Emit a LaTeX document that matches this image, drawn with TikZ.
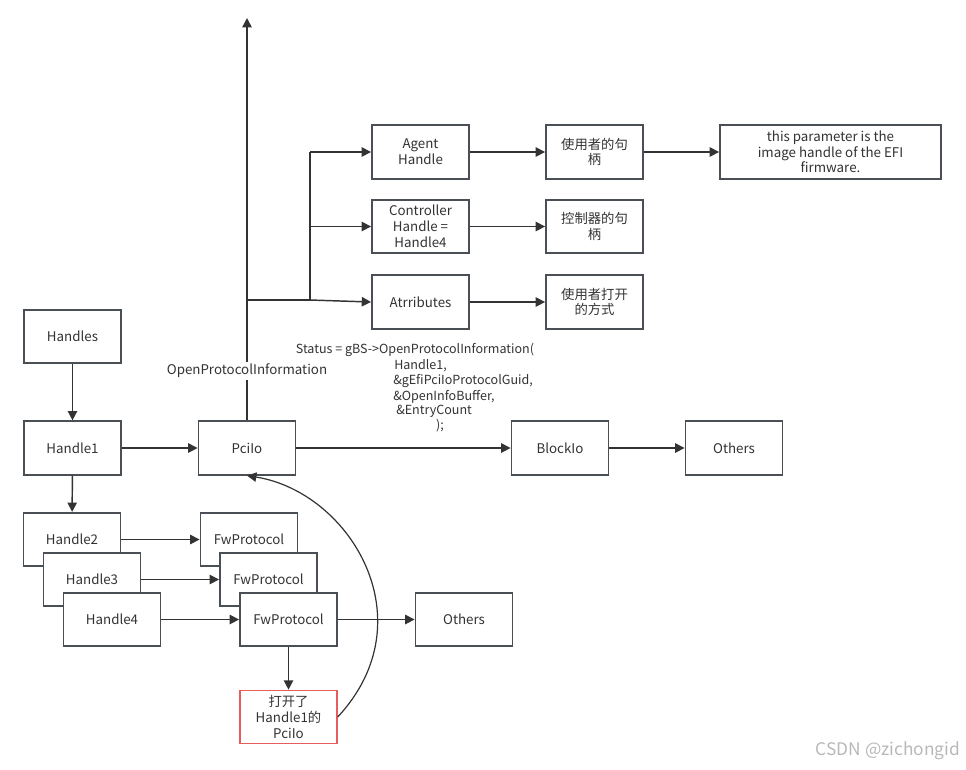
\documentclass[tikz,border=0pt]{standalone}
\usepackage{fontspec}
\setmainfont{Noto Sans CJK SC}
\usetikzlibrary{arrows.meta}
\definecolor{linec}{HTML}{333333}
\definecolor{boxc}{HTML}{4A4F55}
\definecolor{textc}{HTML}{333333}
\definecolor{redc}{HTML}{E85C5C}
\begin{document}
\begin{tikzpicture}[x=0.75pt,y=-0.75pt,
  box/.style={draw=boxc, line width=1.4pt, fill=white, minimum width=72.75pt, minimum height=40pt,
    inner sep=2pt, align=center, text=textc, font=\fontsize{10}{11.8}\selectfont},
  wbox/.style={box, minimum width=165.75pt},
  redbox/.style={box, draw=redc, line width=1pt},
  arr/.style={draw=linec, line width=1.1pt, -{Triangle[length=7pt,width=7pt]}},
  ln/.style={draw=linec, line width=1.1pt},
  code/.style={text=textc, font=\fontsize{9.4}{11}\selectfont, inner sep=0pt},
  lbl/.style={text=textc, font=\fontsize{10}{12}\selectfont, fill=white, inner sep=1.5pt}]
\useasboundingbox (0,0) rectangle (966,769);

% left column
\node[box] (handles) at (72.5,336.5) {Handles};
\node[box] (handle1) at (72.5,448) {Handle1};
\node[box] (pcilo) at (247,448) {PciIo};
\node[box] (blockio) at (560,448) {BlockIo};
\node[box] (others1) at (734,448) {Others};

\node[box] (handle2) at (72,539.5) {Handle2};
\node[box] (handle3) at (92,579.5) {Handle3};
\node[box] (handle4) at (112,619.5) {Handle4};
\node[box] (fw1) at (249,539.5) {FwProtocol};
\node[box] (fw2) at (268.5,579.5) {FwProtocol};
\node[box] (fw3) at (288.5,619.5) {FwProtocol};
\node[box] (others2) at (464,619.5) {Others};
\node[redbox] (opened) at (288.5,717) {打开了\\Handle1的\\PciIo};

% top right
\node[box] (agent) at (420.5,152) {Agent\\Handle};
\node[box] (ctrl) at (420.5,226.5) {Controller\\Handle =\\Handle4};
\node[box] (attr) at (420.5,302) {Atrributes};
\node[box] (user) at (594.5,152) {使用者的句\\柄};
\node[box] (ctrlh) at (594.5,226.5) {控制器的句\\柄};
\node[box] (mode) at (594.5,302) {使用者打开\\的方式};
\node[wbox] (param) at (830.5,152) {this parameter is the\\image handle of the EFI\\firmware.};

% connectors
\draw[arr] (handles) -- (handle1);
\draw[arr] (handle1) -- (pcilo);
\draw[arr] (handle1) -- (handle2);
\draw[arr] (pcilo) -- (blockio);
\draw[arr] (blockio) -- (others1);
\draw[arr] (handle2) -- (fw1);
\draw[arr] (handle3) -- (fw2);
\draw[arr] (handle4) -- (fw3);
\draw[arr] (fw3) -- (others2);
\draw[arr] (fw3) -- (opened);

\coordinate (top) at (247,18);
\coordinate (branch) at (247,300);
\coordinate (split) at (310,300);
\coordinate (splittop) at (310,152);
\coordinate (splitmid) at (310,226.5);
\draw[arr] (pcilo.north) -- (top);
\node[lbl] (opi) at (247,371) {OpenProtocolInformation};
\draw[ln] (branch) -- (split);
\draw[ln] (split) -- (splittop);
\draw[arr] (split) -- (attr.west);
\draw[arr] (splittop) -- (agent.west);
\draw[arr] (splitmid) -- (ctrl.west);
\draw[arr] (agent) -- (user);
\draw[arr] (user) -- (param);
\draw[arr] (ctrl) -- (ctrlh);
\draw[arr] (attr) -- (mode);

\draw[draw=linec, line width=0.9pt, -{Triangle[length=7pt,width=7pt]}]
  (opened.east) .. controls (428,620) and (350,492) .. (pcilo.south);

% code text
\node[code] (c0) at (415,350) {Status = gBS->OpenProtocolInformation(};
\node[code, anchor=west] (c1) at (394,365.5) {Handle1,};
\node[code, anchor=west] (c2) at (393,381) {\&gEfiPciIoProtocolGuid,};
\node[code, anchor=west] (c3) at (393,396.5) {\&OpenInfoBuffer,};
\node[code, anchor=west] (c4) at (396,411) {\&EntryCount};
\node[code] (c5) at (440,425.5) {);};

% watermark
\node[text=black!28, font=\fontsize{13}{15}\selectfont, inner sep=0pt] (wm) at (888,751) {CSDN @zichongid};
\end{tikzpicture}
\end{document}
